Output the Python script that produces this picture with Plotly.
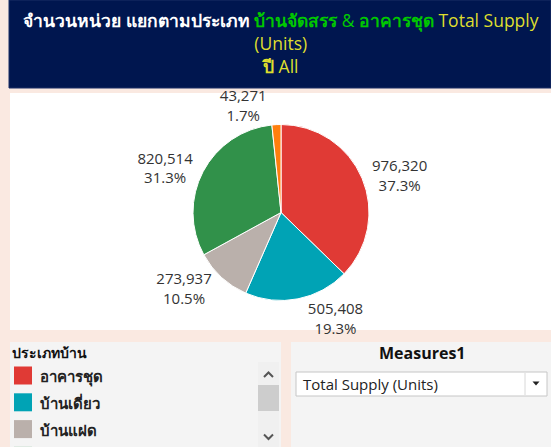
import plotly.graph_objects as go

# ---- data ----
categories = ["อาคารชุด", "บ้านเดี่ยว", "บ้านแฝด", "ทาวน์เฮ้าส์", "อาคารพาณิชย์"]
units = [976320, 505408, 273937, 820514, 43271]
slice_colors = ["#E03A35", "#00A3B5", "#BAB0AB", "#31914A", "#FF7F0E"]
title_line1_a = "จำนวนหน่วย แยกตามประเภท"
title_line1_b1 = "บ้านจัดสรร"
title_line1_b2 = "อาคารชุด"
title_line1_c = "Total Supply"
title_line2 = "(Units)"
title_line3_a = "ปี"
title_line3_b = "All"
legend_title = "ประเภทบ้าน"
param_title = "Measures1"
param_value = "Total Supply (Units)"

W, H = 551, 447
FONT = "Open Sans, Noto Sans, sans-serif"

total = sum(units)
labels_text = [f"{v:,}<br>{v / total * 100:.1f}%" for v in units]

fig = go.Figure()

# pie geometry
cx, cy, r = 281, 212.5, 88
fig.add_trace(go.Pie(
    labels=categories,
    values=units,
    sort=False,
    direction="clockwise",
    rotation=0,
    marker=dict(colors=slice_colors, line=dict(color="white", width=1)),
    text=labels_text,
    textinfo="text",
    textposition="outside",
    textfont=dict(family=FONT, size=15, color="#333333"),
    showlegend=False,
    hoverinfo="label+value+percent",
    domain=dict(x=[(cx - r) / W, (cx + r) / W], y=[1 - (cy + r) / H, 1 - (cy - r) / H]),
    automargin=False,
))

shapes = []
def rect(x0, y0, x1, y1, fill, line=None, lw=0):
    shapes.append(dict(type="rect", xref="x", yref="y", x0=x0, y0=y0, x1=x1, y1=y1,
                       fillcolor=fill, line=dict(color=line or fill, width=lw), layer="below"))

# title box
rect(9, 0, 551, 88, "#00164F", "#1A2F66", 1)
# chart area
rect(10, 93, 551, 330, "#FFFFFF")
# legend panel
rect(10, 342, 281, 447, "#F4F4F4")
# scrollbar
rect(258, 362, 279, 447, "#F0F0F0")
rect(258, 385, 279, 411, "#CDCDCD")
# parameter panel
rect(291, 342, 551, 447, "#F4F4F4")
# dropdown
rect(296, 372, 547, 396, "#FFFFFF", "#C6C6C6", 1)
shapes.append(dict(type="line", xref="x", yref="y", x0=525, x1=525, y0=373, y1=395,
                   line=dict(color="#D8D8D8", width=1)))
shapes.append(dict(type="path", xref="x", yref="y", path="M 532.5 381.5 L 539.5 381.5 L 536 385.5 Z",
                   fillcolor="#222222", line=dict(width=0)))
# scroll arrows
shapes.append(dict(type="path", xref="x", yref="y", path="M 264 377 L 268.5 372.5 L 273 377",
                   line=dict(color="#555555", width=2)))
shapes.append(dict(type="path", xref="x", yref="y", path="M 264 434.5 L 268.5 439 L 273 434.5",
                   line=dict(color="#555555", width=2)))

# legend swatches
annotations = []
for i, (cat, col) in enumerate(zip(categories, slice_colors)):
    y0 = 366.5 + 26.8 * i
    if y0 > H:
        break
    shapes.append(dict(type="rect", xref="x", yref="y", x0=14, x1=32, y0=y0, y1=min(y0 + 18, H),
                       fillcolor=col, line=dict(width=0)))
    if y0 + 10 < H:
        annotations.append(dict(x=38, y=y0 + 10, xref="x", yref="y", text=f"<b>{cat}</b>",
                                showarrow=False, xanchor="left", yanchor="middle",
                                font=dict(family=FONT, size=15, color="#222222")))

WHITE, GREEN, YELLOW = "#FFFFFF", "#00C800", "#DEDE2E"
annotations += [
    dict(x=281, y=43, xref="x", yref="y", showarrow=False, xanchor="center", yanchor="middle",
         align="center",
         text=(f"<b><span style='color:{WHITE}'>{title_line1_a}</span> "
               f"<span style='color:{GREEN}'>{title_line1_b1}</span></b>"
               f"<span style='color:{GREEN}'> &amp; </span>"
               f"<b><span style='color:{GREEN}'>{title_line1_b2}</span></b> "
               f"<span style='color:{YELLOW}'>{title_line1_c}</span><br>"
               f"<span style='color:{YELLOW}'>{title_line2}</span><br>"
               f"<b><span style='color:{YELLOW}'>{title_line3_a}</span></b> "
               f"<span style='color:{YELLOW}'>{title_line3_b}</span>"),
         font=dict(family=FONT, size=17.5, color=WHITE)),
    dict(x=10, y=352, xref="x", yref="y", text=f"<b>{legend_title}</b>", showarrow=False,
         xanchor="left", yanchor="middle", font=dict(family=FONT, size=14, color="#111111")),
    dict(x=422, y=353, xref="x", yref="y", text=f"<b>{param_title}</b>", showarrow=False,
         xanchor="center", yanchor="middle", font=dict(family=FONT, size=16, color="#111111")),
    dict(x=301, y=384, xref="x", yref="y", text=param_value, showarrow=False,
         xanchor="left", yanchor="middle", font=dict(family=FONT, size=15, color="#222222")),
]

fig.update_layout(
    width=W, height=H,
    margin=dict(l=0, r=0, t=0, b=0),
    paper_bgcolor="#FAE9E1",
    plot_bgcolor="rgba(0,0,0,0)",
    xaxis=dict(range=[0, W], visible=False, fixedrange=True),
    yaxis=dict(range=[H, 0], visible=False, fixedrange=True),
    shapes=shapes,
    annotations=annotations,
    font=dict(family=FONT),
)

fig.write_html("out.html", config={"displayModeBar": False},
               post_script="document.body.style.margin='0px';document.body.style.overflow='hidden';")
